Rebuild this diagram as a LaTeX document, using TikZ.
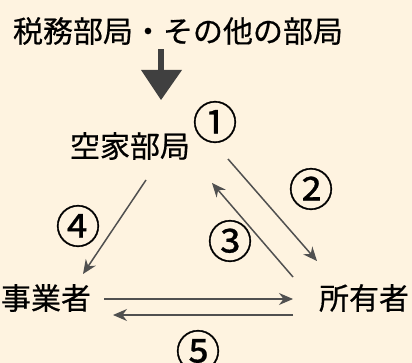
\documentclass[tikz,border=0pt]{standalone}
\usepackage{fontspec}
\setmainfont{Noto Sans CJK JP}[FakeBold=0.5]
\newfontfamily\numfont{Noto Sans CJK JP}[FakeBold=0.6]
\usetikzlibrary{arrows.meta}
\definecolor{bg}{HTML}{FEF3E0}
\definecolor{arr}{HTML}{505050}
\definecolor{bigarr}{HTML}{404040}
\tikzset{
  lbl/.style={inner sep=0pt, font=\fontsize{30}{30}\selectfont},
  num/.style={inner sep=0pt, font=\numfont\fontsize{45}{45}\selectfont},
  conn/.style={draw=arr, line width=1.5pt, -{Stealth[length=14pt,width=12pt]}},
}
\begin{document}
\begin{tikzpicture}[x=1pt,y=-1pt]
\fill[bg] (0,0) rectangle (412,363);
\useasboundingbox (0,0) rectangle (412,363);
\node[lbl] (title) at (178,31) {税務部局・その他の部局};
\node[lbl] (akiya) at (130,146) {空家部局};
\node[lbl] (jigyo) at (46,298) {事業者};
\node[lbl] (shoyu) at (364,298) {所有者};
\node[num] (n1) at (215,122) {①};
\node[num] (n2) at (311,189) {②};
\node[num] (n3) at (230,241) {③};
\node[num] (n4) at (78,226) {④};
\node[num] (n5) at (198,351) {⑤};
% big arrow
\coordinate (be) at (161,100);
\fill[bigarr] (158,49) rectangle (164,71);
\fill[bigarr] (141,70) -- (182,70) -- (be) -- cycle;
% connectors
\coordinate (a2s) at (228,159); \coordinate (a2e) at (317,261);
\coordinate (a3s) at (293,277); \coordinate (a3e) at (212,183);
\coordinate (a4s) at (146,180); \coordinate (a4e) at (83,274);
\coordinate (a5s) at (104,299); \coordinate (a5e) at (293,299);
\coordinate (a6s) at (293,315); \coordinate (a6e) at (113,315);
\draw[conn] (a2s) -- (a2e);
\draw[conn] (a3s) -- (a3e);
\draw[conn] (a4s) -- (a4e);
\draw[conn] (a5s) -- (a5e);
\draw[conn] (a6s) -- (a6e);
\end{tikzpicture}
\end{document}
